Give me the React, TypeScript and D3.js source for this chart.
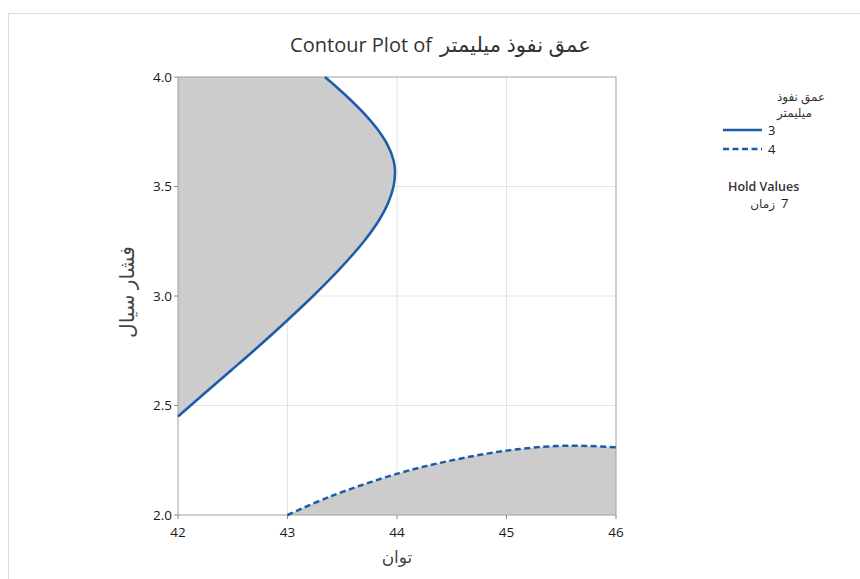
import React from "react";
import * as d3 from "d3";

const titleLatin = "Contour Plot of";
const titleArabic = "عمق نفوذ میلیمتر";
const xLabel = "توان";
const yLabel = "فشار سیال";
const xTicks = [42, 43, 44, 45, 46];
const yTicks = [2.0, 2.5, 3.0, 3.5, 4.0];

// level 3 contour (solid), read from top edge down to left edge
const contour3X = [43.342, 43.458, 43.577, 43.713, 43.827, 43.915, 43.968, 43.982, 43.967, 43.919, 43.837, 43.708, 43.469, 43.234, 42.992, 42.75, 42.489, 42.225, 42.0];
const contour3Y = [4.0, 3.95, 3.895, 3.826, 3.758, 3.689, 3.621, 3.566, 3.498, 3.425, 3.347, 3.256, 3.119, 3.0, 2.886, 2.776, 2.662, 2.548, 2.45];
// level 4 contour (dashed)
const contour4X = [43.0, 43.388, 44.012, 44.514, 45.0, 45.458, 45.763, 46.0];
const contour4Y = [2.0, 2.084, 2.19, 2.251, 2.294, 2.315, 2.315, 2.309];

const legendTitle = ["عمق نفوذ", "میلیمتر"];
const legendLevels = ["3", "4"];
const holdLabel = "Hold Values";
const holdName = "زمان";
const holdValue = "7";

const FONT = "'Open Sans', 'DejaVu Sans', sans-serif";
const BLUE = "#1a5ca8";

export default function App() {
  const left = 178, right = 616, top = 77, bottom = 515;
  const x = d3.scaleLinear().domain([42, 46]).range([left, right]);
  const y = d3.scaleLinear().domain([2, 4]).range([bottom, top]);

  const pts3: [number, number][] = contour3X.map((v, i) => [v, contour3Y[i]]);
  const pts4: [number, number][] = contour4X.map((v, i) => [v, contour4Y[i]]);

  const line = d3
    .line<[number, number]>()
    .x((d) => x(d[0]))
    .y((d) => y(d[1]))
    .curve(d3.curveCatmullRom.alpha(0.5));

  const path3 = line(pts3) || "";
  const path4 = line(pts4) || "";
  const fill3 = path3 + `L${x(42)},${y(4)}Z`;
  const fill4 = path4 + `L${x(46)},${y(2)}Z`;

  return (
    <svg width={860} height={579} style={{ position: "absolute", left: 0, top: 0 }} fontFamily={FONT}>
      <rect x={0} y={0} width={860} height={579} fill="#fff" />
      <line x1={8.5} y1={13.5} x2={860} y2={13.5} stroke="#dcdcdc" />
      <line x1={8.5} y1={13.5} x2={8.5} y2={579} stroke="#dcdcdc" />

      <text x={432} y={52} textAnchor="end" fontSize={20} fill="#333">
        {titleLatin}
      </text>
      <text x={440} y={52} textAnchor="start" fontSize={21} fill="#333">
        {titleArabic}
      </text>

      {/* grid */}
      {xTicks.slice(1, -1).map((t) => (
        <line key={"gx" + t} x1={x(t)} x2={x(t)} y1={top} y2={bottom} stroke="#e3e3e3" />
      ))}
      {yTicks.slice(1, -1).map((t) => (
        <line key={"gy" + t} x1={left} x2={right} y1={y(t)} y2={y(t)} stroke="#e3e3e3" />
      ))}

      {/* fills */}
      <path d={fill3} fill="#cccccc" stroke="none" />
      <path d={fill4} fill="#cccccc" stroke="none" />

      {/* frame */}
      <rect x={left} y={top} width={right - left} height={bottom - top} fill="none" stroke="#a0a0a0" />

      {/* ticks */}
      {xTicks.map((t) => (
        <g key={"xt" + t}>
          <line x1={x(t)} x2={x(t)} y1={bottom} y2={bottom + 4} stroke="#8a8a8a" />
          <text x={x(t)} y={bottom + 22} textAnchor="middle" fontSize={13.5} fontWeight={500} fill="#1a1a1a">
            {t}
          </text>
        </g>
      ))}
      {yTicks.map((t) => (
        <g key={"yt" + t}>
          <line x1={left - 4} x2={left} y1={y(t)} y2={y(t)} stroke="#8a8a8a" />
          <text x={left - 6} y={y(t) + 4.8} textAnchor="end" fontSize={13.5} fontWeight={500} fill="#1a1a1a">
            {t.toFixed(1)}
          </text>
        </g>
      ))}

      {/* contours */}
      <path d={path3} fill="none" stroke={BLUE} strokeWidth={2.5} />
      <path d={path4} fill="none" stroke={BLUE} strokeWidth={2.5} strokeDasharray="6 3.5" />

      {/* axis labels */}
      <text x={(left + right) / 2} y={563} textAnchor="middle" fontSize={17} fill="#444">
        {xLabel}
      </text>
      <text
        transform={`translate(134, 292) rotate(-90)`}
        textAnchor="middle"
        fontSize={20}
        fill="#444"
      >
        {yLabel}
      </text>

      {/* legend */}
      <text x={777} y={101} fontSize={12} fill="#333">{legendTitle[0]}</text>
      <text x={777} y={117} fontSize={12} fill="#333">{legendTitle[1]}</text>
      <line x1={723} x2={762} y1={130} y2={130} stroke={BLUE} strokeWidth={2.5} />
      <text x={768} y={135} fontSize={13} fill="#222">{legendLevels[0]}</text>
      <line x1={723} x2={762} y1={149} y2={149} stroke={BLUE} strokeWidth={2.5} strokeDasharray="6 3.5" />
      <text x={768} y={154} fontSize={13} fill="#222">{legendLevels[1]}</text>

      <text x={728} y={191} fontSize={12.5} fill="#333" fontWeight={600}>{holdLabel}</text>
      <text x={775} y={208} textAnchor="end" fontSize={12} fill="#333">{holdName}</text>
      <text x={781} y={208} fontSize={13} fill="#222">{holdValue}</text>
    </svg>
  );
}
